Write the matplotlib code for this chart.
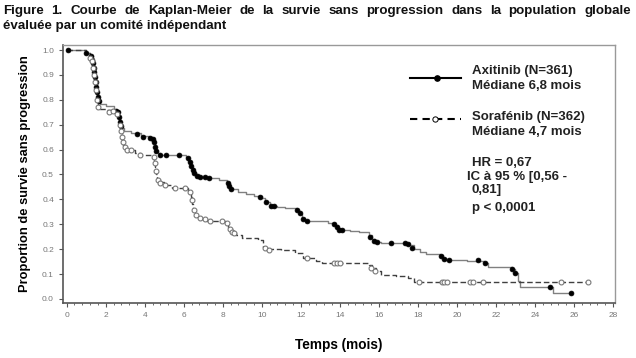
import matplotlib
matplotlib.use("Agg")
import matplotlib.pyplot as plt
from matplotlib.ticker import MultipleLocator, FormatStrFormatter

# Kaplan-Meier step points (time in months, survival proportion)
axi_t = [0, 1.0, 1.2, 1.35, 1.4, 1.45, 1.5, 1.55, 1.6, 1.7, 2.0, 2.4, 2.6, 2.7, 2.75,
         2.8, 2.85, 2.95, 3.3, 3.8, 4.2, 4.45, 4.55, 4.6, 4.7, 4.8, 6.1, 6.2, 6.3,
         6.4, 6.5, 6.65, 6.8, 7.4, 7.8, 8.2, 8.35, 8.5, 8.8, 9.2, 9.6, 10.0, 10.15,
         10.4, 10.8, 11.2, 11.8, 11.95, 12.05, 12.2, 12.8, 13.4, 13.75, 13.9, 14.0,
         14.5, 15.0, 15.5, 15.65, 15.8, 16.1, 17.55, 17.8, 18.1, 18.4, 19.15, 19.3,
         19.45, 20.5, 21.4, 21.6, 22.8, 22.95, 23.15, 23.25, 24.9, 25.85]
axi_s = [1.0, 0.99, 0.975, 0.95, 0.92, 0.89, 0.86, 0.83, 0.80, 0.785, 0.775, 0.765,
         0.755, 0.74, 0.72, 0.70, 0.685, 0.675, 0.665, 0.655, 0.645, 0.635, 0.62,
         0.60, 0.585, 0.578, 0.57, 0.555, 0.54, 0.525, 0.51, 0.50, 0.49, 0.485,
         0.478, 0.465, 0.445, 0.44, 0.43, 0.42, 0.412, 0.405, 0.39, 0.375, 0.37,
         0.365, 0.355, 0.34, 0.325, 0.315, 0.312, 0.305, 0.295, 0.285, 0.275,
         0.273, 0.27, 0.255, 0.24, 0.23, 0.226, 0.215, 0.20, 0.19, 0.182, 0.175,
         0.165, 0.156, 0.154, 0.143, 0.127, 0.119, 0.105, 0.07, 0.049, 0.025, 0.025]

axi_cens_t = [0.05, 1.0, 1.25, 1.3, 1.35, 1.4, 1.42, 1.45, 1.5, 1.52, 1.55, 1.6, 1.65,
              2.55, 2.62, 2.7, 2.75, 2.8, 3.6, 3.9, 4.25, 4.4, 4.5, 4.55, 4.6, 4.8,
              5.1, 5.75, 6.2, 6.3, 6.35, 6.45, 6.55, 6.7, 6.85, 7.1, 7.3, 8.25, 8.3,
              8.4, 9.9, 10.2, 10.45, 10.6, 11.8, 11.95, 12.1, 12.3, 13.7, 13.85,
              13.95, 14.1, 15.55, 15.75, 15.9, 16.6, 17.35, 17.47, 17.7, 19.2, 19.35,
              19.6, 21.1, 21.45, 22.8, 23.0, 24.75, 25.85]
axi_cens_s = [1.0, 0.99, 0.975, 0.96, 0.95, 0.93, 0.91, 0.89, 0.87, 0.85, 0.83, 0.81,
              0.795, 0.757, 0.75, 0.73, 0.71, 0.695, 0.661, 0.652, 0.648, 0.641, 0.63,
              0.61, 0.595, 0.577, 0.577, 0.577, 0.565, 0.55, 0.535, 0.52, 0.505,
              0.495, 0.49, 0.49, 0.487, 0.465, 0.455, 0.44, 0.41, 0.39, 0.375, 0.372,
              0.357, 0.345, 0.32, 0.315, 0.302, 0.29, 0.278, 0.276, 0.25, 0.234,
              0.227, 0.226, 0.226, 0.222, 0.205, 0.173, 0.16, 0.155, 0.155, 0.143,
              0.119, 0.103, 0.049, 0.025]

sor_t = [0, 1.0, 1.2, 1.3, 1.35, 1.4, 1.45, 1.5, 1.55, 1.6, 2.0, 2.6, 2.7, 2.75, 2.8,
         2.85, 2.9, 3.0, 3.1, 3.5, 3.75, 4.3, 4.5, 4.55, 4.6, 4.65, 4.75, 5.0, 5.4,
         6.2, 6.35, 6.4, 6.45, 6.55, 6.7, 6.9, 7.2, 8.1, 8.25, 8.35, 8.5, 8.7, 9.0,
         9.8, 10.05, 10.2, 11.0, 11.7, 12.1, 12.8, 13.1, 15.5, 15.65, 15.85, 16.1,
         16.9, 17.5, 17.8, 26.7]
sor_s = [1.0, 0.99, 0.97, 0.95, 0.92, 0.89, 0.86, 0.82, 0.79, 0.765, 0.758, 0.745,
         0.72, 0.69, 0.665, 0.64, 0.62, 0.605, 0.598, 0.588, 0.578, 0.571, 0.56,
         0.53, 0.50, 0.48, 0.468, 0.458, 0.446, 0.432, 0.41, 0.38, 0.355, 0.34,
         0.326, 0.32, 0.314, 0.305, 0.29, 0.277, 0.265, 0.255, 0.245, 0.238, 0.21,
         0.20, 0.195, 0.183, 0.165, 0.153, 0.146, 0.135, 0.123, 0.112, 0.095,
         0.092, 0.085, 0.069, 0.069]

sor_cens_t = [1.2, 1.3, 1.35, 1.4, 1.45, 1.5, 1.55, 1.6, 2.15, 2.35, 2.6, 2.75, 2.8,
              2.85, 2.9, 3.0, 3.1, 3.3, 3.75, 4.45, 4.55, 4.6, 4.7, 4.8, 5.05, 5.55,
              6.05, 6.3, 6.4, 6.5, 6.65, 6.85, 7.1, 7.35, 7.95, 8.2, 8.35, 8.45, 8.55,
              10.15, 10.35, 12.3, 13.7, 13.85, 14.0, 15.6, 15.8, 18.03, 19.23, 19.35,
              19.5, 20.68, 20.8, 21.33, 25.33, 26.7]
sor_cens_s = [0.97, 0.955, 0.93, 0.90, 0.87, 0.84, 0.80, 0.77, 0.752, 0.755, 0.745,
              0.70, 0.675, 0.65, 0.63, 0.61, 0.598, 0.598, 0.578, 0.571, 0.545, 0.515,
              0.478, 0.465, 0.458, 0.444, 0.444, 0.431, 0.398, 0.357, 0.337, 0.324,
              0.32, 0.314, 0.314, 0.304, 0.28, 0.27, 0.264, 0.205, 0.197, 0.163,
              0.146, 0.143, 0.143, 0.123, 0.114, 0.069, 0.069, 0.069, 0.069, 0.069,
              0.069, 0.069, 0.069, 0.069]

x_ticks = list(range(0, 29, 2))
y_ticks = [i / 10 for i in range(11)]

TITLE_1 = ("Figure 1. Courbe de Kaplan-Meier de la survie sans progression "
           "dans la population globale")
TITLE_2 = "évaluée par un comité indépendant"

plt.rcParams["font.family"] = ["Liberation Sans", "DejaVu Sans"]

fig = plt.figure(figsize=(6.36, 3.58), dpi=100)
fig.patch.set_facecolor("white")
ax = fig.add_axes([0.099, 0.154, 0.868, 0.72])

ax.step(axi_t, axi_s, where="post", color="#808080", linewidth=1.0, zorder=2)
ax.plot(axi_cens_t, axi_cens_s, linestyle="none", marker="o", markersize=3.5,
        markerfacecolor="black", markeredgecolor="black", markeredgewidth=0.5, zorder=3)

ax.step(sor_t, sor_s, where="post", color="#404040", linewidth=1.0,
        linestyle=(0, (4, 2)), zorder=2)
ax.plot(sor_cens_t, sor_cens_s, linestyle="none", marker="o", markersize=3.5,
        markerfacecolor="white", markeredgecolor="#777777", markeredgewidth=0.8, zorder=3)

ax.set_xlim(-0.19, 28.1)
ax.set_ylim(-0.016, 1.02)
ax.set_xticks(x_ticks)
ax.xaxis.set_minor_locator(MultipleLocator(0.4))
ax.set_yticks(y_ticks)
ax.yaxis.set_major_formatter(FormatStrFormatter("%.1f"))
ax.tick_params(axis="both", which="major", labelsize=6, labelcolor="#777777",
               color="#555555", length=3, width=0.8, direction="out")
ax.tick_params(axis="x", which="minor", length=1.5, width=0.6, color="#555555")

for side in ("top", "right"):
    ax.spines[side].set_color("#999999")
    ax.spines[side].set_linewidth(1.0)
for side in ("left", "bottom"):
    ax.spines[side].set_color("#555555")
    ax.spines[side].set_linewidth(1.2)

ax.set_ylabel("Proportion de survie sans progression", fontsize=9.3,
              fontweight="bold", labelpad=8)
ax.set_xlabel("Temps (mois)", fontsize=9.8, fontweight="bold", labelpad=14)

# legend drawn by hand to match the layout
ax.plot([17.6, 20.2], [0.889, 0.889], color="black", linewidth=1.5, clip_on=False)
ax.plot([19.0], [0.889], marker="o", markersize=3.8, color="black", clip_on=False)
ax.plot([17.6, 20.2], [0.723, 0.723], color="black", linewidth=1.5,
        linestyle=(0, (3.5, 2.5)), clip_on=False)
ax.plot([18.9], [0.723], marker="o", markersize=3.8, markerfacecolor="white",
        markeredgecolor="black", markeredgewidth=0.7, clip_on=False)

kw = dict(fontsize=9.5, fontweight="bold", color="#222222", va="center", ha="left")
ax.text(20.77, 0.917, "Axitinib (N=361)", **kw)
ax.text(20.77, 0.857, "Médiane 6,8 mois", **kw)
ax.text(20.77, 0.732, "Sorafénib (N=362)", **kw)
ax.text(20.77, 0.672, "Médiane 4,7 mois", **kw)
ax.text(20.77, 0.545, "HR = 0,67", **kw)
ax.text(20.5, 0.491, "IC à 95 % [0,56 -", **kw)
ax.text(20.77, 0.438, "0,81]", **kw)
ax.text(20.77, 0.364, "p < 0,0001", **kw)

# title: first line justified across the page width, second line left aligned
W, H = 636, 358
tkw = dict(fontsize=9.6, fontweight="bold", color="#111111", va="center", ha="left")
renderer = fig.canvas.get_renderer()
words = TITLE_1.split(" ")
texts = [fig.text(0, 1 - 11 / H, w, **tkw) for w in words]
widths = [t.get_window_extent(renderer).width for t in texts]
x0, x1 = 3, 631
gap = (x1 - x0 - sum(widths)) / (len(words) - 1)
x = x0
for t, w in zip(texts, widths):
    t.set_x(x / W)
    x += w + gap
fig.text(x0 / W, 1 - 26 / H, TITLE_2, **tkw)

fig.savefig("out.png", dpi=100, facecolor="white")
